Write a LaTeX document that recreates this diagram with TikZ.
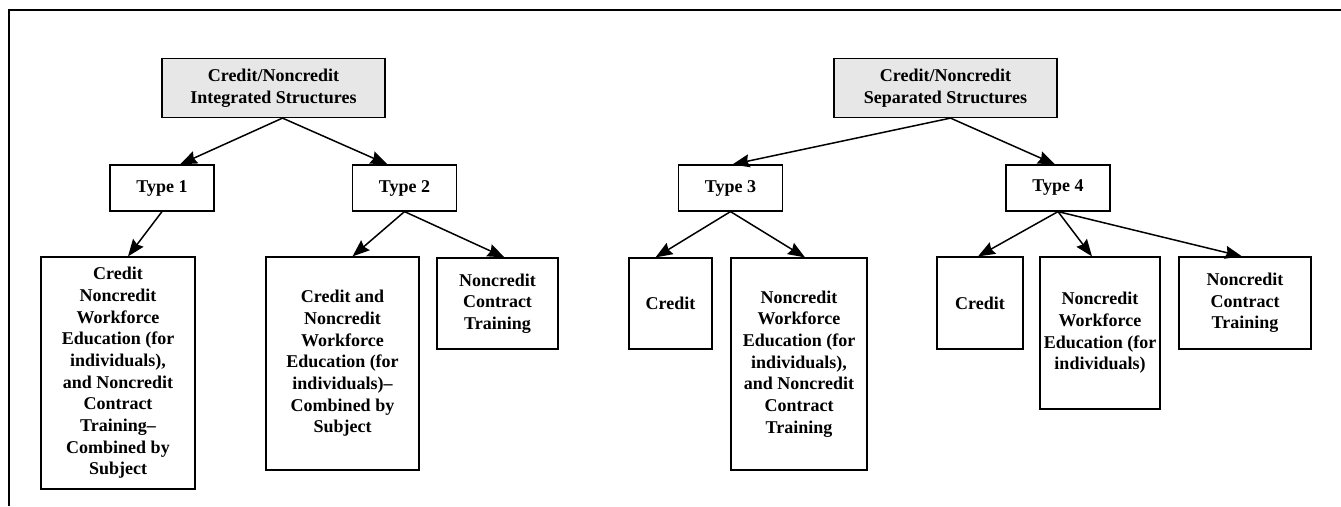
\documentclass[tikz,border=0pt]{standalone}
\usepackage{fontspec}
\setmainfont{Liberation Serif}
\usepackage{tikz}
\usetikzlibrary{arrows.meta}
\definecolor{rootgray}{RGB}{231,231,231}
\begin{document}
\begin{tikzpicture}[x=1pt,y=-1pt,
    every node/.style={font=\bfseries\fontsize{18}{21.7}\selectfont, align=center, inner sep=0pt},
    box/.style={draw, line width=1.2pt},
    rootbox/.style={box, fill=rootgray, minimum width=223pt, minimum height=59pt},
    typebox/.style={box, minimum width=104pt, minimum height=46pt},
    arr/.style={line width=1.5pt, -{Stealth[length=17pt,width=13pt,inset=2pt]}}]
             \useasboundingbox (0,0) rectangle (1341,506);
             \draw[line width=2.4pt] (9,506) -- (9,10) -- (1341,10);
             % roots
             \node[rootbox] (intg) at (273.5,88) {Credit/Noncredit\\Integrated Structures};
             \node[rootbox] (sep) at (945.5,88) {Credit/Noncredit\\Separated Structures};
             % types
             \node[typebox] (t1) at (162,188) {Type 1};
             \node[typebox] (t2) at (404.5,188) {Type 2};
             \node[typebox] (t3) at (730.5,188) {Type 3};
             \node[typebox] (t4) at (1058,188) {Type 4};
             % leaves
             \node[box, minimum width=154pt, minimum height=232pt] (comb1) at (118,373)
               {Credit\\Noncredit\\Workforce\\Education (for\\individuals),\\and Noncredit\\Contract\\Training–\\Combined by\\Subject};
             \node[box, minimum width=153pt, minimum height=213pt] (comb2) at (342.5,363.5)
               {Credit and\\Noncredit\\Workforce\\Education (for\\individuals)–\\Combined by\\Subject};
             \node[box, minimum width=121pt, minimum height=91pt] (nct2) at (497.5,303.5)
               {Noncredit\\Contract\\Training};
             \node[box, minimum width=83pt, minimum height=91pt] (cr3) at (670.5,303.5) {Credit};
             \node[box, minimum width=136pt, minimum height=212pt] (nwe3) at (799,364)
               {Noncredit\\Workforce\\Education (for\\individuals),\\and Noncredit\\Contract\\Training};
             \node[box, minimum width=86pt, minimum height=92pt] (cr4) at (980,303) {Credit};
             \node[box, minimum width=120pt, minimum height=152pt] (nwe4) at (1100,333)
               {Noncredit\\Workforce\\Education (for\\individuals)};
             \node[box, minimum width=132pt, minimum height=92pt] (nct4) at (1245,303)
               {Noncredit\\Contract\\Training};
             % arrows
             \draw[arr] ([xshift=9pt]intg.south) -- ([xshift=18pt]t1.north);
             \draw[arr] ([xshift=9pt]intg.south) -- ([xshift=-17pt]t2.north);
             \draw[arr] ([xshift=5pt]sep.south) -- ([xshift=2pt]t3.north);
             \draw[arr] ([xshift=5pt]sep.south) -- ([xshift=-3pt]t4.north);
             \draw[arr] (t1.south) -- ([xshift=10pt]comb1.north);
             \draw[arr] (t2.south) -- ([xshift=10pt]comb2.north);
             \draw[arr] (t2.south) -- ([xshift=7pt]nct2.north);
             \draw[arr] (t3.south) -- ([xshift=-15pt]cr3.north);
             \draw[arr] (t3.south) -- ([xshift=6pt]nwe3.north);
             \draw[arr] (t4.south) -- ([xshift=-2pt]cr4.north);
             \draw[arr] (t4.south) -- ([xshift=-8pt]nwe4.north);
             \draw[arr] (t4.south) -- ([xshift=-3pt]nct4.north);
            \end{tikzpicture}
\end{document}
